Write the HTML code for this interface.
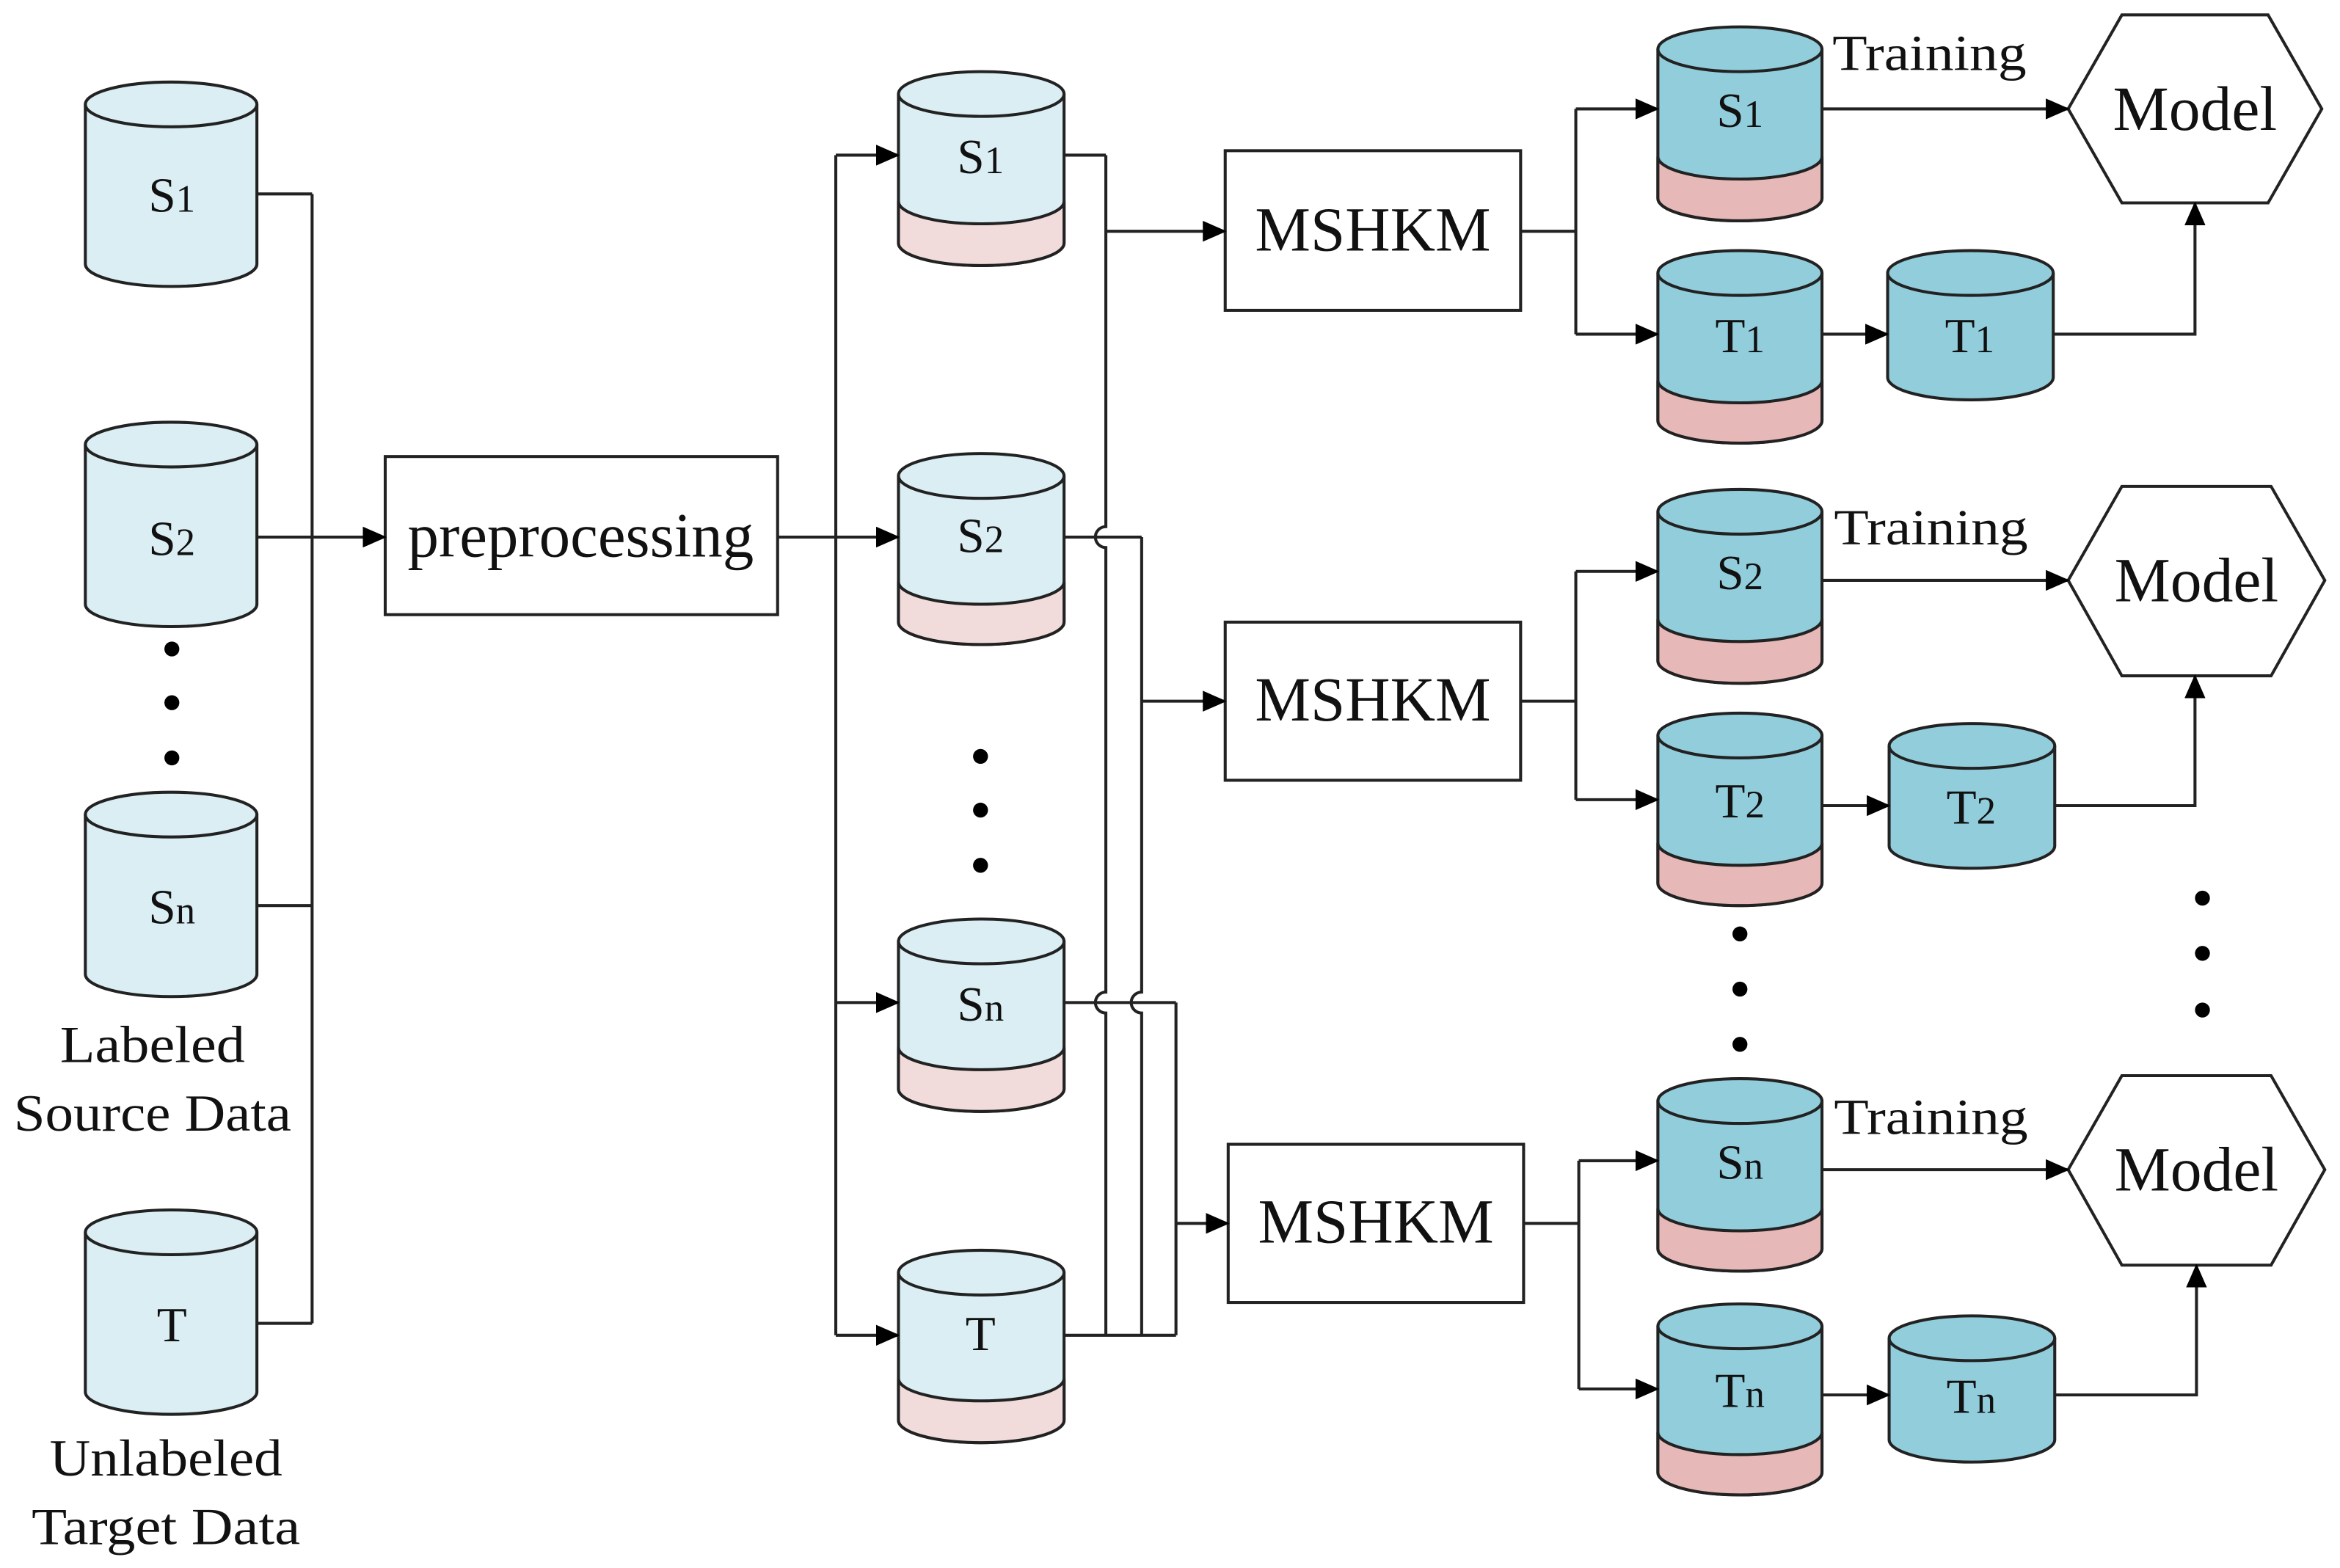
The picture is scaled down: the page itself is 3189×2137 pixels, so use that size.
<!DOCTYPE html>
<html><head><meta charset="utf-8"><style>
html,body{margin:0;padding:0;background:#fff}
svg{display:block}
text{font-family:"Liberation Serif",serif;fill:#111}
</style></head><body>
<svg width="3189" height="2137" viewBox="0 0 1568 1051" xmlns="http://www.w3.org/2000/svg">
<defs>
<marker id="a" markerUnits="userSpaceOnUse" markerWidth="16" markerHeight="14" refX="15" refY="7" orient="auto"><path d="M0,0 L16,7 L0,14 Z" fill="#000"/></marker>
</defs>
<g stroke="#222" stroke-width="2" fill="none">
<g fill="#daeef3">
<path d="M57,70 L57,177 A57.5,15 0 0 0 172,177 L172,70 A57.5,15 0 0 0 57,70 Z"/>
<path d="M57,298 L57,405 A57.5,15 0 0 0 172,405 L172,298 A57.5,15 0 0 0 57,298 Z"/>
<path d="M57,546 L57,653 A57.5,15 0 0 0 172,653 L172,546 A57.5,15 0 0 0 57,546 Z"/>
<path d="M57,826 L57,933 A57.5,15 0 0 0 172,933 L172,826 A57.5,15 0 0 0 57,826 Z"/>
</g>
<path d="M57,70 A57.5,15 0 0 0 172,70 M57,298 A57.5,15 0 0 0 172,298 M57,546 A57.5,15 0 0 0 172,546 M57,826 A57.5,15 0 0 0 172,826"/>

<g>
<path fill="#daeef3" d="M602,63 L602,163 A55.5,15 0 0 0 713,163 L713,63 A55.5,15 0 0 0 602,63 Z"/>
<path fill="#f2dcdb" d="M602,135 L602,163 A55.5,15 0 0 0 713,163 L713,135 A55.5,15 0 0 1 602,135 Z"/>
<path d="M602,63 A55.5,15 0 0 0 713,63"/>
<path fill="#daeef3" d="M602,319 L602,417 A55.5,15 0 0 0 713,417 L713,319 A55.5,15 0 0 0 602,319 Z"/>
<path fill="#f2dcdb" d="M602,390 L602,417 A55.5,15 0 0 0 713,417 L713,390 A55.5,15 0 0 1 602,390 Z"/>
<path d="M602,319 A55.5,15 0 0 0 713,319"/>
<path fill="#daeef3" d="M602,631 L602,730 A55.5,15 0 0 0 713,730 L713,631 A55.5,15 0 0 0 602,631 Z"/>
<path fill="#f2dcdb" d="M602,702 L602,730 A55.5,15 0 0 0 713,730 L713,702 A55.5,15 0 0 1 602,702 Z"/>
<path d="M602,631 A55.5,15 0 0 0 713,631"/>
<path fill="#daeef3" d="M602,853 L602,952 A55.5,15 0 0 0 713,952 L713,853 A55.5,15 0 0 0 602,853 Z"/>
<path fill="#f2dcdb" d="M602,924 L602,952 A55.5,15 0 0 0 713,952 L713,924 A55.5,15 0 0 1 602,924 Z"/>
<path d="M602,853 A55.5,15 0 0 0 713,853"/>
</g>

<g>
<path fill="#92cddc" d="M1111,33 L1111,133 A55,15 0 0 0 1221,133 L1221,33 A55,15 0 0 0 1111,33 Z"/>
<path fill="#e6b8b7" d="M1111,105 L1111,133 A55,15 0 0 0 1221,133 L1221,105 A55,15 0 0 1 1111,105 Z"/>
<path d="M1111,33 A55,15 0 0 0 1221,33"/>
<path fill="#92cddc" d="M1111,183 L1111,282 A55,15 0 0 0 1221,282 L1221,183 A55,15 0 0 0 1111,183 Z"/>
<path fill="#e6b8b7" d="M1111,255 L1111,282 A55,15 0 0 0 1221,282 L1221,255 A55,15 0 0 1 1111,255 Z"/>
<path d="M1111,183 A55,15 0 0 0 1221,183"/>
<path fill="#92cddc" d="M1111,343 L1111,443 A55,15 0 0 0 1221,443 L1221,343 A55,15 0 0 0 1111,343 Z"/>
<path fill="#e6b8b7" d="M1111,415 L1111,443 A55,15 0 0 0 1221,443 L1221,415 A55,15 0 0 1 1111,415 Z"/>
<path d="M1111,343 A55,15 0 0 0 1221,343"/>
<path fill="#92cddc" d="M1111,493 L1111,592 A55,15 0 0 0 1221,592 L1221,493 A55,15 0 0 0 1111,493 Z"/>
<path fill="#e6b8b7" d="M1111,565 L1111,592 A55,15 0 0 0 1221,592 L1221,565 A55,15 0 0 1 1111,565 Z"/>
<path d="M1111,493 A55,15 0 0 0 1221,493"/>
<path fill="#92cddc" d="M1111,738 L1111,837 A55,15 0 0 0 1221,837 L1221,738 A55,15 0 0 0 1111,738 Z"/>
<path fill="#e6b8b7" d="M1111,810 L1111,837 A55,15 0 0 0 1221,837 L1221,810 A55,15 0 0 1 1111,810 Z"/>
<path d="M1111,738 A55,15 0 0 0 1221,738"/>
<path fill="#92cddc" d="M1111,889 L1111,987 A55,15 0 0 0 1221,987 L1221,889 A55,15 0 0 0 1111,889 Z"/>
<path fill="#e6b8b7" d="M1111,960 L1111,987 A55,15 0 0 0 1221,987 L1221,960 A55,15 0 0 1 1111,960 Z"/>
<path d="M1111,889 A55,15 0 0 0 1221,889"/>
</g>
<g>
<path fill="#92cddc" d="M1265,183 L1265,253 A55.5,15 0 0 0 1376,253 L1376,183 A55.5,15 0 0 0 1265,183 Z"/>
<path d="M1265,183 A55.5,15 0 0 0 1376,183"/>
<path fill="#92cddc" d="M1266,500 L1266,567 A55.5,15 0 0 0 1377,567 L1377,500 A55.5,15 0 0 0 1266,500 Z"/>
<path d="M1266,500 A55.5,15 0 0 0 1377,500"/>
<path fill="#92cddc" d="M1266,897 L1266,965 A55.5,15 0 0 0 1377,965 L1377,897 A55.5,15 0 0 0 1266,897 Z"/>
<path d="M1266,897 A55.5,15 0 0 0 1377,897"/>
</g>

<rect x="258" y="306" width="263" height="106" fill="#fff"/>
<rect x="821" y="101" width="198" height="107" fill="#fff"/>
<rect x="821" y="417" width="198" height="106" fill="#fff"/>
<rect x="823" y="767" width="198" height="106" fill="#fff"/>
<polygon points="1386,73 1422,10 1520,10 1556,73 1520,136 1422,136" fill="#fff"/>
<polygon points="1386,389 1422,326 1522,326 1558,389 1522,453 1422,453" fill="#fff"/>
<polygon points="1386,784 1422,721 1522,721 1558,784 1522,848 1422,848" fill="#fff"/>

<path d="M172,130 H209 M172,607 H209 M172,887 H209 M209,130 V887"/>
<path d="M172,360 H258" marker-end="url(#a)"/>
<path d="M521,360 H560 M560,104 V895"/>
<path d="M560,104 H602" marker-end="url(#a)"/>
<path d="M560,360 H602" marker-end="url(#a)"/>
<path d="M560,672 H602" marker-end="url(#a)"/>
<path d="M560,895 H602" marker-end="url(#a)"/>

<path d="M713,104 H741 M713,360 H765 M713,672 H788 M713,895 H788"/>
<path d="M741,104 V353 A7,7 0 0 0 741,367 V665 A7,7 0 0 0 741,679 V895"/>
<path d="M765,360 V665 A7,7 0 0 0 765,679 V895"/>
<path d="M788,672 V895"/>
<path d="M741,155 H821" marker-end="url(#a)"/>
<path d="M765,470 H821" marker-end="url(#a)"/>
<path d="M788,820 H823" marker-end="url(#a)"/>

<path d="M1019,155 H1056 M1056,73 V224"/>
<path d="M1056,73 H1111" marker-end="url(#a)"/>
<path d="M1056,224 H1111" marker-end="url(#a)"/>
<path d="M1221,73 H1386" marker-end="url(#a)"/>
<path d="M1221,224 H1265" marker-end="url(#a)"/>
<path d="M1376,224 H1471 V136" marker-end="url(#a)"/>
<path d="M1019,470 H1056 M1056,383 V536"/>
<path d="M1056,383 H1111" marker-end="url(#a)"/>
<path d="M1056,536 H1111" marker-end="url(#a)"/>
<path d="M1221,389 H1386" marker-end="url(#a)"/>
<path d="M1221,540 H1266" marker-end="url(#a)"/>
<path d="M1377,540 H1471 V453" marker-end="url(#a)"/>
<path d="M1021,820 H1058 M1058,778 V931"/>
<path d="M1058,778 H1111" marker-end="url(#a)"/>
<path d="M1058,931 H1111" marker-end="url(#a)"/>
<path d="M1221,784 H1386" marker-end="url(#a)"/>
<path d="M1221,935 H1266" marker-end="url(#a)"/>
<path d="M1377,935 H1472 V848" marker-end="url(#a)"/>
</g>

<g fill="#000">
<circle cx="115" cy="435" r="5"/><circle cx="115" cy="471" r="5"/><circle cx="115" cy="508" r="5"/>
<circle cx="657" cy="507" r="5"/><circle cx="657" cy="543" r="5"/><circle cx="657" cy="580" r="5"/>
<circle cx="1166" cy="626" r="5"/><circle cx="1166" cy="663" r="5"/><circle cx="1166" cy="700" r="5"/>
<circle cx="1476" cy="602" r="5"/><circle cx="1476" cy="639" r="5"/><circle cx="1476" cy="677" r="5"/>
</g>

<g font-size="33" text-anchor="middle">
<text x="115" y="142">S<tspan font-size="26">1</tspan></text>
<text x="115" y="372">S<tspan font-size="26">2</tspan></text>
<text x="115" y="619">S<tspan font-size="26">n</tspan></text>
<text x="115" y="899">T</text>
<text x="657" y="116">S<tspan font-size="26">1</tspan></text>
<text x="657" y="370">S<tspan font-size="26">2</tspan></text>
<text x="657" y="684">S<tspan font-size="26">n</tspan></text>
<text x="657" y="905">T</text>
<text x="1166" y="85">S<tspan font-size="26">1</tspan></text>
<text x="1166" y="236">T<tspan font-size="26">1</tspan></text>
<text x="1166" y="395">S<tspan font-size="26">2</tspan></text>
<text x="1166" y="548">T<tspan font-size="26">2</tspan></text>
<text x="1166" y="790">S<tspan font-size="26">n</tspan></text>
<text x="1166" y="943">T<tspan font-size="26">n</tspan></text>
<text x="1320" y="236">T<tspan font-size="26">1</tspan></text>
<text x="1321" y="552">T<tspan font-size="26">2</tspan></text>
<text x="1321" y="947">T<tspan font-size="26">n</tspan></text>
</g>
<g font-size="35" text-anchor="middle">
<text x="102" y="712" textLength="124" lengthAdjust="spacingAndGlyphs">Labeled</text>
<text x="102" y="758" textLength="186" lengthAdjust="spacingAndGlyphs">Source Data</text>
<text x="111" y="989" textLength="156" lengthAdjust="spacingAndGlyphs">Unlabeled</text>
<text x="111" y="1035" textLength="180" lengthAdjust="spacingAndGlyphs">Target Data</text>
</g>
<g font-size="42" text-anchor="middle">
<text x="389" y="373" textLength="232" lengthAdjust="spacingAndGlyphs">preprocessing</text>
<text x="920" y="168" textLength="158" lengthAdjust="spacingAndGlyphs">MSHKM</text>
<text x="920" y="483" textLength="158" lengthAdjust="spacingAndGlyphs">MSHKM</text>
<text x="922" y="833" textLength="158" lengthAdjust="spacingAndGlyphs">MSHKM</text>
<text x="1471" y="87" textLength="110" lengthAdjust="spacingAndGlyphs">Model</text>
<text x="1472" y="403" textLength="110" lengthAdjust="spacingAndGlyphs">Model</text>
<text x="1472" y="798" textLength="110" lengthAdjust="spacingAndGlyphs">Model</text>
</g>
<g font-size="34">
<text x="1228" y="47" textLength="130" lengthAdjust="spacingAndGlyphs">Training</text>
<text x="1229" y="365" textLength="130" lengthAdjust="spacingAndGlyphs">Training</text>
<text x="1229" y="760" textLength="130" lengthAdjust="spacingAndGlyphs">Training</text>
</g>
</svg>
</body></html>
